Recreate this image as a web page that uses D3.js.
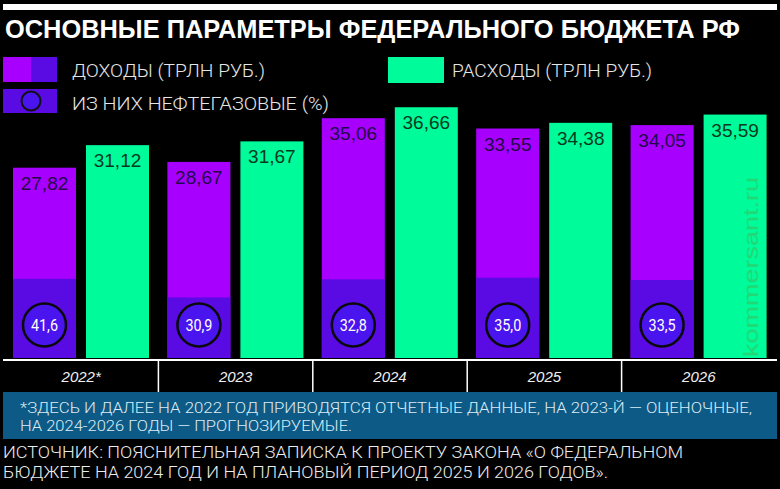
<!DOCTYPE html>
<html><head><meta charset="utf-8">
<script src="https://cdn.jsdelivr.net/npm/d3@7"></script>
<style>html,body{margin:0;padding:0;background:#000;}svg{display:block;}</style>
</head><body>
<script>
const years = ["2022*", "2023", "2024", "2025", "2026"];
const revenue = [27.82, 28.67, 35.06, 33.55, 34.05];
const expenses = [31.12, 31.67, 36.66, 34.38, 35.59];
const oilGasPct = [41.6, 30.9, 32.8, 35.0, 33.5];
const fmt = v => v.toFixed(2).replace(".", ",");
const fmtPct = v => v.toFixed(1).replace(".", ",");

const W = 780, H = 489;
const C = {purple:"#a800ff", dark:"#5a0ae2", circle:"#4a14ee", green:"#00fb9b", box:"#0e5a86"};
const svg = d3.select("body").append("svg").attr("width", W).attr("height", H);
svg.append("rect").attr("width", W).attr("height", H).attr("fill", "#000");

// top bar + title
svg.append("rect").attr("x", 3).attr("y", 4).attr("width", 774).attr("height", 6).attr("fill", "#fff");
svg.append("text").attr("x", 5).attr("y", 38).text("ОСНОВНЫЕ ПАРАМЕТРЫ ФЕДЕРАЛЬНОГО БЮДЖЕТА РФ")
  .attr("font-family", "Liberation Sans, Arial, sans-serif").attr("font-weight", "bold")
  .attr("font-size", 25).attr("fill", "#fff").attr("textLength", 735).attr("lengthAdjust", "spacingAndGlyphs");

// legend
const lf = "Roboto, 'Liberation Sans', sans-serif";
svg.append("rect").attr("x", 3).attr("y", 57).attr("width", 28).attr("height", 25).attr("fill", C.purple);
svg.append("rect").attr("x", 31).attr("y", 57).attr("width", 26).attr("height", 25).attr("fill", C.dark);
svg.append("rect").attr("x", 3).attr("y", 89).attr("width", 54).attr("height", 24).attr("fill", C.dark);
svg.append("circle").attr("cx", 31).attr("cy", 101).attr("r", 9.5).attr("fill", C.circle).attr("stroke", "#111").attr("stroke-width", 2);
svg.append("rect").attr("x", 388).attr("y", 57).attr("width", 56).attr("height", 26).attr("fill", C.green);
const legTxt = [
  {x: 72, y: 77, t: "ДОХОДЫ (ТРЛН РУБ.)", w: 193},
  {x: 452, y: 77, t: "РАСХОДЫ (ТРЛН РУБ.)", w: 200},
  {x: 72, y: 110, t: "ИЗ НИХ НЕФТЕГАЗОВЫЕ (%)", w: 257}
];
svg.selectAll(".leg").data(legTxt).join("text").attr("x", d => d.x).attr("y", d => d.y).text(d => d.t)
  .attr("font-family", lf).attr("font-weight", 300).attr("font-size", 19).attr("fill", "#e6e6e6")
  .attr("textLength", d => d.w).attr("lengthAdjust", "spacingAndGlyphs");

// scales
const x = d3.scaleBand().domain(years).range([4, 776]);
const xs = d3.scaleBand().domain(["rev", "exp"]).range([9, 145]).paddingInner(0.137);
const y = d3.scaleLinear().domain([0, 40]).range([358, 84.4]);

const data = years.map((yr, i) => ({yr, rev: revenue[i], exp: expenses[i], pct: oilGasPct[i]}));
const g = svg.append("g");
const grp = g.selectAll(".grp").data(data).join("g").attr("transform", d => `translate(${x(d.yr)},0)`);

grp.append("rect").attr("x", xs("rev")).attr("width", xs.bandwidth())
  .attr("y", d => y(d.rev)).attr("height", d => y(0) - y(d.rev)).attr("fill", C.purple);
grp.append("rect").attr("x", xs("rev")).attr("width", xs.bandwidth())
  .attr("y", d => y(d.rev * d.pct / 100)).attr("height", d => y(0) - y(d.rev * d.pct / 100)).attr("fill", C.dark);
grp.append("rect").attr("x", xs("exp")).attr("width", xs.bandwidth())
  .attr("y", d => y(d.exp)).attr("height", d => y(0) - y(d.exp)).attr("fill", C.green);

const vf = "'Liberation Sans', Arial, sans-serif";
grp.append("text").attr("x", xs("rev") + xs.bandwidth() / 2).attr("y", d => y(d.rev) + 22)
  .attr("text-anchor", "middle").attr("font-family", vf).attr("font-size", 19).attr("fill", "#24084a")
  .text(d => fmt(d.rev));
grp.append("text").attr("x", xs("exp") + xs.bandwidth() / 2).attr("y", d => y(d.exp) + 22)
  .attr("text-anchor", "middle").attr("font-family", vf).attr("font-size", 19).attr("fill", "#053a1c")
  .text(d => fmt(d.exp));

grp.append("circle").attr("cx", xs("rev") + xs.bandwidth() / 2).attr("cy", 325).attr("r", 21.5)
  .attr("fill", C.circle).attr("stroke", "#0a0a0a").attr("stroke-width", 2.5);
grp.append("text").attr("x", xs("rev") + xs.bandwidth() / 2).attr("y", 331)
  .attr("text-anchor", "middle").attr("font-family", lf).attr("font-size", 16).attr("fill", "#fff")
  .attr("textLength", 27).attr("lengthAdjust", "spacingAndGlyphs")
  .text(d => fmtPct(d.pct));

// watermark
svg.append("text").attr("transform", "translate(758,357) rotate(-90)").text("kommersant.ru")
  .attr("font-family", vf).attr("font-size", 21).attr("fill", "#22d874").attr("textLength", 180)
  .attr("lengthAdjust", "spacingAndGlyphs");

// axis
const axisG = svg.append("g");
axisG.append("line").attr("x1", 3).attr("x2", 777).attr("y1", 360).attr("y2", 360).attr("stroke", "#fff").attr("stroke-width", 2);
axisG.selectAll(".div").data(years.slice(1)).join("line")
  .attr("x1", d => x(d)).attr("x2", d => x(d)).attr("y1", 360).attr("y2", 392).attr("stroke", "#fff").attr("stroke-width", 1.5);
axisG.selectAll(".yl").data(years).join("text")
  .attr("x", d => x(d) + x.bandwidth() / 2).attr("y", 382).attr("text-anchor", "middle")
  .attr("font-family", vf).attr("font-style", "italic").attr("font-size", 15).attr("fill", "#f0f0f0")
  .text(d => d);

// footnote box
svg.append("rect").attr("x", 3).attr("y", 392).attr("width", 774).attr("height", 47).attr("fill", C.box);
const foot = [
  {y: 413, t: "*ЗДЕСЬ И ДАЛЕЕ НА 2022 ГОД ПРИВОДЯТСЯ ОТЧЕТНЫЕ ДАННЫЕ, НА 2023-Й — ОЦЕНОЧНЫЕ,", w: 732},
  {y: 431, t: "НА 2024-2026 ГОДЫ — ПРОГНОЗИРУЕМЫЕ.", w: 332}
];
svg.selectAll(".ft").data(foot).join("text").attr("x", 20).attr("y", d => d.y).text(d => d.t)
  .attr("font-family", lf).attr("font-weight", 300).attr("font-size", 15).attr("fill", "#dcecf5")
  .attr("textLength", d => d.w).attr("lengthAdjust", "spacingAndGlyphs");

const src = [
  {y: 458, t: "ИСТОЧНИК: ПОЯСНИТЕЛЬНАЯ ЗАПИСКА К ПРОЕКТУ ЗАКОНА «О ФЕДЕРАЛЬНОМ", w: 680},
  {y: 478, t: "БЮДЖЕТЕ НА 2024 ГОД И НА ПЛАНОВЫЙ ПЕРИОД 2025 И 2026 ГОДОВ».", w: 605}
];
svg.selectAll(".src").data(src).join("text").attr("x", 3).attr("y", d => d.y).text(d => d.t)
  .attr("font-family", lf).attr("font-weight", 300).attr("font-size", 17).attr("fill", "#ececec")
  .attr("textLength", d => d.w).attr("lengthAdjust", "spacingAndGlyphs");
</script>
</body></html>
